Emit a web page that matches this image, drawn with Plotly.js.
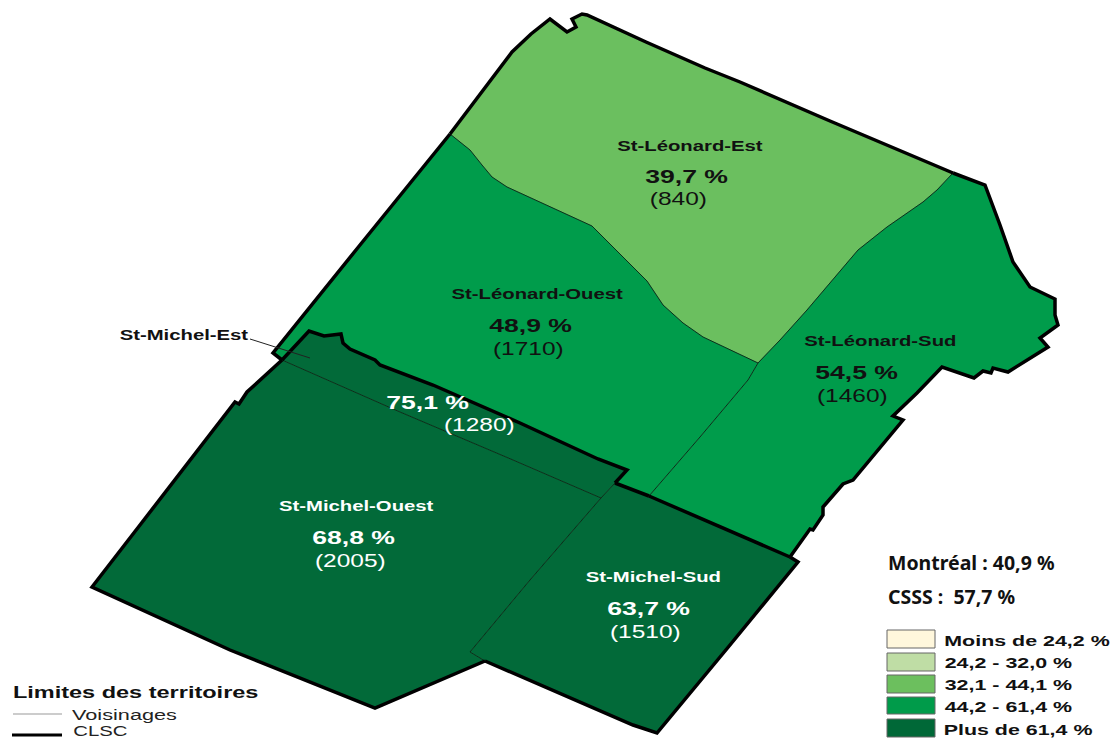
<!DOCTYPE html>
<html>
<head>
<meta charset="utf-8">
<script src="https://cdn.plot.ly/plotly-3.0.1.min.js"></script>
<style>html,body{margin:0;padding:0;background:#fff;overflow:hidden}#chart{width:1113px;height:740px}</style>
</head>
<body>
<div id="chart"></div>
<script>
// Boundary segments
var northX=[450,470,490,512,531,550,567,576,572,582,587,646,705,740,830,923,953];
var northY=[134,108,81,52,34,19,32,27,19,14,15,42,68,82,121,160,173];
var eastDivX=[953,937,923,887,858,837,807,780,758];
var eastDivY=[173,190,202,227,250,275,310,340,363];
var westDivX=[450,470,482,492,507,550,592,620,647,663,683,703,730,758];
var westDivY=[134,150,165,177,187,207,226,254,281,305,323,337,350,363];
var ouestSudDivX=[758,748,700,649];
var ouestSudDivY=[363,380,437,496];
var southEastX=[953,985,1000,1013,1030,1055,1055,1058,1040,1048,1008,993,991,983,974,942,917,893,903,853,843,823,823,813,810,790];
var southEastY=[173,185,225,262,287,299,315,325,338,347,372,368,373,371,378,367,393,416,420,480,484,507,515,530,529,557];
var clscAX=[790,720,649];
var clscAY=[557,527,496];
var clscBX=[649,615];
var clscBY=[496,483];
var clscCX=[615,627,598,520,433,380,375,350,343,341,324,309,282];
var clscCY=[483,470,459,423,385,365,360,349,343,334,336,331,360];
var leonardWestX=[282,273,360,450];
var leonardWestY=[360,353,245,134];
var micEastDivX=[282,400,513,601];
var micEastDivY=[360,412,460,498];
var micSudUpperX=[615,601];
var micSudUpperY=[483,498];
var micSudLowerX=[601,530,470,485];
var micSudLowerY=[498,580,652,661];
var micSudOuterX=[790,798,730,657,633,560,485];
var micSudOuterY=[557,562,645,733,725,693,661];
var micOuestOuterX=[485,375,230,92,140,190,235,239,247,282];
var micOuestOuterY=[661,708,650,587,525,460,402,404,392,360];
var leaderX=[250,310];
var leaderY=[339,358];
var voisinageKeyX=[13,62];
var voisinageKeyY=[714,714];
var clscKeyX=[12,62];
var clscKeyY=[735,735];

// Territories and their labels
var territories=['St-Léonard-Est','St-Léonard-Ouest','St-Léonard-Sud','St-Michel-Est','St-Michel-Ouest','St-Michel-Sud'];
var rates=['39,7 %','48,9 %','54,5 %','75,1 %','68,8 %','63,7 %'];
var counts=['(840)','(1710)','(1460)','(1280)','(2005)','(1510)'];
var nameX=[690,537,880,184,356,653], nameY=[146,294,341,335,506,577];
var rateX=[686,530,856,427,353,648], rateY=[176,325,372,402,537,608];
var countX=[678,528,852,479,350,645], countY=[199,349,396,425,561,632];
var labelColors=['#111','#111','#111','#fff','#fff','#fff'];
var nameColors=['#111','#111','#111','#111','#fff','#fff'];

// Legend
var classes=['Moins de 24,2 %','24,2 - 32,0 %','32,1 - 44,1 %','44,2 - 61,4 %','Plus de 61,4 %'];
var classColors=['#FFF7DC','#BFDDA5','#6CBF5E','#009B4A','#006837'];
var classTop=[630,653,675,697,719], classBottom=[648,671,693,714,737];
var classTextX=[1027,1008,1008,1008,1018], classTextY=[640,662,684,706,729];

var MAP_GREEN_LIGHT='#6BBF5F', MAP_GREEN='#009C4B', MAP_DARK='#026A39';
function rev(a){return a.slice().reverse();}
function join(){var o=[];for(var i=0;i<arguments.length;i++)o=o.concat(arguments[i]);return o;}
function fillTrace(x,y,c){return {x:x,y:y,mode:'lines',fill:'toself',fillcolor:c,line:{color:c,width:0.5},hoverinfo:'skip'};}
function lineTrace(x,y,c,w){return {x:x,y:y,mode:'lines',line:{color:c,width:w,shape:'linear'},hoverinfo:'skip'};}

var data=[
 fillTrace(join(northX,eastDivX,rev(westDivX)),join(northY,eastDivY,rev(westDivY)),MAP_GREEN_LIGHT),
 fillTrace(join(westDivX,ouestSudDivX,rev(clscBX),clscCX,leonardWestX),join(westDivY,ouestSudDivY,rev(clscBY),clscCY,leonardWestY),MAP_GREEN),
 fillTrace(join(southEastX,clscAX,rev(ouestSudDivX),rev(eastDivX)),join(southEastY,clscAY,rev(ouestSudDivY),rev(eastDivY)),MAP_GREEN),
 fillTrace(join(rev(clscCX),micSudUpperX,rev(micEastDivX)),join(rev(clscCY),micSudUpperY,rev(micEastDivY)),MAP_DARK),
 fillTrace(join(micEastDivX,micSudLowerX,micOuestOuterX),join(micEastDivY,micSudLowerY,micOuestOuterY),MAP_DARK),
 fillTrace(join(rev(clscBX),rev(clscAX),micSudOuterX,rev(micSudLowerX),rev(micSudUpperX)),join(rev(clscBY),rev(clscAY),micSudOuterY,rev(micSudLowerY),rev(micSudUpperY)),MAP_DARK)
];
[[eastDivX,eastDivY],[westDivX,westDivY],[ouestSudDivX,ouestSudDivY],[micEastDivX,micEastDivY],[micSudUpperX,micSudUpperY],[micSudLowerX,micSudLowerY]].forEach(function(s){
  data.push(lineTrace(s[0],s[1],'#0d2e1a',1));
});
[[northX,northY],[southEastX,southEastY],[clscAX,clscAY],[clscBX,clscBY],[clscCX,clscCY],[leonardWestX,leonardWestY],[micSudOuterX,micSudOuterY],[micOuestOuterX,micOuestOuterY]].forEach(function(s){
  data.push(lineTrace(s[0],s[1],'#000',3.5));
});
data.push(lineTrace(leaderX,leaderY,'#222',1));
data.push(lineTrace(voisinageKeyX,voisinageKeyY,'#999',1.2));
data.push(lineTrace(clscKeyX,clscKeyY,'#000',3));

var SANS='Liberation Sans, Arial, sans-serif';
function note(t,x,y,size,color,bold){
  return {text:bold?'<b>'+t+'</b>':t,x:x,y:y,xref:'x',yref:'y',xanchor:'center',yanchor:'middle',showarrow:false,align:'center',borderpad:0,
    font:{family:SANS,size:size,color:color}};
}
var annotations=[];
territories.forEach(function(n,i){
  annotations.push(note(n,nameX[i],nameY[i],14.5,nameColors[i],true));
  annotations.push(note(rates[i],rateX[i],rateY[i],19,labelColors[i],true));
  annotations.push(note(counts[i],countX[i],countY[i],17.5,labelColors[i],false));
});
classes.forEach(function(c,i){annotations.push(note(c,classTextX[i],classTextY[i],15.3,'#111',true));});
annotations.push(note('Limites des territoires',135,692,16.8,'#111',true));
annotations.push(note('Voisinages',124,714,15.5,'#222',false));
annotations.push(note('CLSC',100,730.5,14.5,'#222',false));
var stretchedCount=annotations.length;
['Montréal : 40,9 %','CSSS :  57,7 %'].forEach(function(t,i){
  annotations.push({text:'<b>'+t+'</b>',x:886,y:[562,596][i],xref:'x',yref:'y',xanchor:'left',yanchor:'middle',showarrow:false,
    font:{family:'Noto Sans, sans-serif',size:19.5,color:'#111'}});
});

var shapes=classes.map(function(c,i){
  return {type:'rect',xref:'x',yref:'y',x0:887,x1:935,y0:classTop[i],y1:classBottom[i],fillcolor:classColors[i],line:{color:'#666',width:1}};
});

var layout={
  width:1113,height:740,margin:{l:0,r:0,t:0,b:0},showlegend:false,
  paper_bgcolor:'#fff',plot_bgcolor:'#fff',
  xaxis:{range:[0,1113],visible:false,fixedrange:true},
  yaxis:{range:[740,0],visible:false,fixedrange:true},
  annotations:annotations,shapes:shapes
};
Plotly.newPlot('chart',data,layout,{displayModeBar:false,staticPlot:true}).then(function(gd){
  var texts=gd.querySelectorAll('.annotation-text');
  for(var i=0;i<texts.length&&i<stretchedCount;i++){
    texts[i].style.transformBox='fill-box';
    texts[i].style.transformOrigin='center';
    texts[i].style.transform='scaleX(1.4)';
  }
});
</script>
</body>
</html>
